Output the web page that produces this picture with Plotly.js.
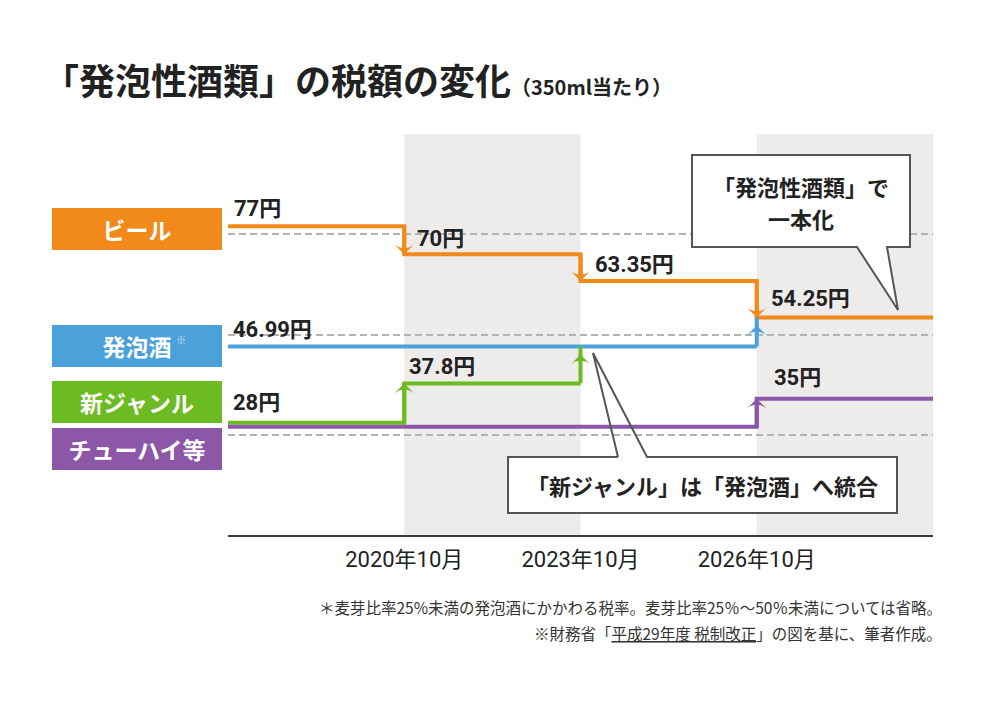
<!DOCTYPE html>
<html>
<head>
<meta charset="utf-8">
<script src="https://cdn.plot.ly/plotly-3.0.1.min.js"></script>
<style>html,body{margin:0;padding:0;background:#fff;}</style>
</head>
<body>
<div id="chart" style="width:1000px;height:704px"></div>
<script>
// ---------- data ----------
const periods = ['2020年10月', '2023年10月', '2026年10月'];
const seriesNames = ['ビール', '発泡酒', '新ジャンル', 'チューハイ等'];
// step index: 0 = before 2020年10月, 1..3 = periods
const beerSteps = [0, 1, 2, 3];
const beer = [77, 70, 63.35, 54.25];
const happoshuSteps = [0];
const happoshu = [46.99];
const newGenreSteps = [0, 1];
const newGenre = [28, 37.8];
const chuhaiSteps = [0, 3];
const chuhai = [28, 35];
const titleText = '「発泡性酒類」の税額の変化';
const subtitleText = '（350ml当たり）';
const callout1 = ['「発泡性酒類」で', '一本化'];
const callout2 = '「新ジャンル」は「発泡酒」へ統合';
const note1 = '＊麦芽比率25%未満の発泡酒にかかわる税率。麦芽比率25％〜50％未満については省略。';
const note2 = '※財務省「<u>平成29年度 税制改正</u>」の図を基に、筆者作成。';

// ---------- style ----------
const COL = {beer: '#F18A1B', happoshu: '#4BA1DA', newGenre: '#6DBB23', chuhai: '#8C57A6'};
const FONT_JP = '"Noto Sans CJK JP", sans-serif';
const FONT_NUM = 'Roboto, "Noto Sans CJK JP", sans-serif';
const W = 1000, H = 704, ML = 228, MR = 67, MT = 134, MB = 169;
const PW = W - ML - MR, PH = H - MT - MB;
const px = v => (v - ML) / PW;
const py = v => (H - MB - v) / PH;
const END = periods.length + 1;

function stepTrace(x, y, color, yaxis) {
  return {x, y, yaxis: yaxis || 'y', type: 'scatter', mode: 'lines', cliponaxis: false,
    line: {color, width: 4, shape: 'hv'}, hoverinfo: 'skip', showlegend: false};
}
// vertical step line plus an arrowhead marker at its end
function arrowTraces(x, from, to, color, yaxis, standoff) {
  const up = to > from;
  const so = standoff || 0;
  return [
    {x: [x, x], y: [from, to], yaxis: yaxis || 'y', type: 'scatter', mode: 'lines',
      cliponaxis: false, hoverinfo: 'skip', showlegend: false,
      line: {color, width: 4, backoff: so ? so + 6 : 0}},
    {x: [x], y: [to], yaxis: yaxis || 'y', type: 'scatter', mode: 'markers',
      cliponaxis: false, hoverinfo: 'skip', showlegend: false,
      marker: {symbol: 'arrow-wide', size: 15, angle: up ? 0 : 180, standoff: so,
        color, line: {width: 0}}}
  ];
}

const traces = [
  stepTrace(chuhaiSteps.concat([END]), chuhai.concat([chuhai[chuhai.length - 1]]), COL.chuhai, 'y2'),
  stepTrace(newGenreSteps.concat([2]), newGenre.concat([newGenre[newGenre.length - 1]]), COL.newGenre),
  stepTrace(happoshuSteps.concat([beerSteps[3]]), happoshu.concat([happoshu[0]]), COL.happoshu),
  stepTrace(beerSteps.concat([END]), beer.concat([beer[beer.length - 1]]), COL.beer)
];
const arrows = [];
for (let i = 1; i < chuhai.length; i++) arrows.push(arrowTraces(chuhaiSteps[i], chuhai[i - 1], chuhai[i], COL.chuhai, 'y2'));
for (let i = 1; i < newGenre.length; i++) arrows.push(arrowTraces(newGenreSteps[i], newGenre[i - 1], newGenre[i], COL.newGenre));
for (let i = 1; i < beer.length; i++) arrows.push(arrowTraces(beerSteps[i], beer[i - 1], beer[i], COL.beer));
// merges: 新ジャンル -> 発泡酒 (2023), 発泡酒 -> ビール (2026)
arrows.push(arrowTraces(2, newGenre[newGenre.length - 1], happoshu[0], COL.newGenre, 'y', 8));
arrows.push(arrowTraces(3, happoshu[0], beer[3], COL.happoshu, 'y', 8));
arrows.forEach(a => traces.push(...a));

const annotations = [];
function valueLabel(x, v, yref, xs, ys) {
  annotations.push({x, y: v, xref: 'x', yref, text: '<b>' + v + '円</b>', showarrow: false,
    xanchor: 'left', yanchor: 'middle', xshift: xs, yshift: ys,
    font: {family: FONT_NUM, size: 22, color: '#222'}});
}
const beerShift = [[4, 18], [11, 16], [12, 16], [12, 19]];
beer.forEach((v, i) => valueLabel(beerSteps[i], v, 'y', beerShift[i][0], beerShift[i][1]));
valueLabel(happoshuSteps[0], happoshu[0], 'y', 3, 17);
const ngShift = [[3, 20], [3, 17]];
newGenre.forEach((v, i) => valueLabel(newGenreSteps[i], v, 'y', ngShift[i][0], ngShift[i][1]));
valueLabel(chuhaiSteps[1], chuhai[1], 'y2', 15, 21);

// category boxes
const boxY = [229, 346, 402, 449];
const boxCol = [COL.beer, COL.happoshu, COL.newGenre, COL.chuhai];
seriesNames.forEach((n, i) => {
  annotations.push({xref: 'paper', yref: 'paper', x: px(137), y: py(boxY[i]), xanchor: 'center', yanchor: 'middle',
    text: '<b>' + n + '</b>', showarrow: false, bgcolor: boxCol[i], width: 170, height: 42,
    borderpad: 0, borderwidth: 0, align: 'center', valign: 'middle',
    font: {family: FONT_JP, size: 23, color: '#ffffff'}});
});
// small ※ mark on 発泡酒 box
annotations.push({xref: 'paper', yref: 'paper', x: px(174), y: py(339), xanchor: 'left', yanchor: 'middle',
  text: '※', showarrow: false, font: {family: FONT_JP, size: 10, color: '#d2e8f7'}});

// title
annotations.push({xref: 'paper', yref: 'paper', x: px(41), y: py(79), xanchor: 'left', yanchor: 'middle',
  text: '<b>' + titleText + '</b><span style="font-size:20px"><b>' + subtitleText + '</b></span>',
  showarrow: false, font: {family: FONT_JP, size: 36, color: '#222'}});

// callout texts
callout1.forEach((t, i) => {
  annotations.push({xref: 'paper', yref: 'paper', x: px(801), y: py(i === 0 ? 186 : 218), xanchor: 'center', yanchor: 'middle',
    text: '<b>' + t + '</b>', showarrow: false, align: 'center', borderpad: 0,
    font: {family: FONT_JP, size: 22, color: '#222'}});
});
annotations.push({xref: 'paper', yref: 'paper', x: px(702), y: py(485), xanchor: 'center', yanchor: 'middle',
  text: '<b>' + callout2 + '</b>', showarrow: false, align: 'center',
  font: {family: FONT_JP, size: 22, color: '#222'}});

// notes
annotations.push({xref: 'paper', yref: 'paper', x: px(944), y: py(607), xanchor: 'right', yanchor: 'middle',
  text: note1, showarrow: false, font: {family: FONT_JP, size: 15.5, color: '#333'}});
annotations.push({xref: 'paper', yref: 'paper', x: px(944), y: py(633), xanchor: 'right', yanchor: 'middle',
  text: note2, showarrow: false, font: {family: FONT_JP, size: 15.5, color: '#333'}});

// shapes
function pth(pts, close) {
  return pts.map((p, i) => (i ? 'L' : 'M') + px(p[0]).toFixed(5) + ',' + py(p[1]).toFixed(5)).join(' ') + (close ? ' Z' : '');
}
const shapes = [
  {type: 'rect', xref: 'x', yref: 'y', x0: 1, x1: 2, y0: 0, y1: 100, fillcolor: '#EEECEB', line: {width: 0}, layer: 'below'},
  {type: 'rect', xref: 'x', yref: 'y', x0: 3, x1: 4, y0: 0, y1: 100, fillcolor: '#EEECEB', line: {width: 0}, layer: 'below'},
  // callout 1 (filled)
  {type: 'path', xref: 'paper', yref: 'paper', layer: 'above', fillcolor: '#ffffff',
    line: {color: '#555', width: 2},
    path: pth([[692, 155], [910, 155], [910, 247], [887, 247], [898, 310], [857, 247], [692, 247]], true)},
  // callout 2 box fill
  {type: 'rect', xref: 'paper', yref: 'paper', layer: 'above', fillcolor: '#ffffff', line: {width: 0},
    x0: px(508), x1: px(897), y0: py(513), y1: py(457)},
  // callout 2 outline with tail
  {type: 'path', xref: 'paper', yref: 'paper', layer: 'above', line: {color: '#555', width: 2},
    path: pth([[618, 457], [593, 353], [647, 457], [897, 457], [897, 513], [508, 513], [508, 457], [618, 457]], false)}
];

const layout = {
  width: W, height: H, autosize: false,
  margin: {l: ML, r: MR, t: MT, b: MB, pad: 0},
  paper_bgcolor: '#ffffff', plot_bgcolor: 'rgba(0,0,0,0)',
  showlegend: false,
  xaxis: {range: [0, END], tickvals: [1, 2, 3], ticktext: periods, ticks: '', showgrid: false, zeroline: false,
    showline: true, linecolor: '#3a3a3a', linewidth: 2, ticklabelstandoff: 4,
    tickfont: {family: FONT_NUM, size: 22, color: '#222'}, fixedrange: true},
  yaxis: {range: [0, 100], tickvals: [25, 50, 75, 100], showticklabels: false, ticks: '',
    showgrid: true, gridcolor: '#b3b3b3', gridwidth: 2, griddash: '7px,4px', zeroline: false, showline: false, fixedrange: true},
  yaxis2: {range: [1, 101], overlaying: 'y', visible: false, fixedrange: true},
  shapes, annotations
};

Plotly.newPlot('chart', traces, layout, {displayModeBar: false, staticPlot: true});
</script>
</body>
</html>
